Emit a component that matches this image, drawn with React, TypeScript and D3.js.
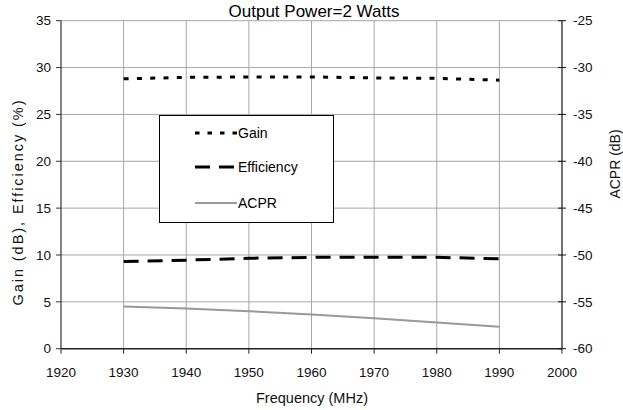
import React from "react";
import * as d3 from "d3";

const freqs = [1930, 1940, 1950, 1960, 1970, 1980, 1990];
const gain = [28.8, 28.95, 29.0, 29.0, 28.9, 28.85, 28.65];
const efficiency = [9.3, 9.45, 9.65, 9.75, 9.75, 9.75, 9.6];
const acpr = [-55.5, -55.7, -56.0, -56.35, -56.75, -57.2, -57.65];

const xTicks = [1920, 1930, 1940, 1950, 1960, 1970, 1980, 1990, 2000];
const yLeftTicks = [0, 5, 10, 15, 20, 25, 30, 35];
const yRightTicks = [-60, -55, -50, -45, -40, -35, -30, -25];

const W = 623;
const H = 410;
const L = 61, R = 562, T = 20.7, B = 348.7;
const FONT = "Arial, 'Liberation Sans', sans-serif";

export default function App() {
  const x = d3.scaleLinear().domain([1920, 2000]).range([L, R]);
  const yL = d3.scaleLinear().domain([0, 35]).range([B, T]);
  const yR = d3.scaleLinear().domain([-60, -25]).range([B, T]);

  const lineL = d3.line<number>().x((_, i) => x(freqs[i])).y((d) => yL(d));
  const lineR = d3.line<number>().x((_, i) => x(freqs[i])).y((d) => yR(d));

  return (
    <svg width={W} height={H} style={{ position: "absolute", left: 0, top: 0, background: "#fff" }} fontFamily={FONT}>
      <rect x={0} y={0} width={W} height={H} fill="#fff" />
      {/* gridlines */}
      {xTicks.slice(1, -1).map((t) => (
        <line key={"gx" + t} x1={x(t)} x2={x(t)} y1={T} y2={B} stroke="#a6a6a6" strokeWidth={1} />
      ))}
      {yLeftTicks.slice(1, -1).map((t) => (
        <line key={"gy" + t} x1={L} x2={R} y1={yL(t)} y2={yL(t)} stroke="#a6a6a6" strokeWidth={1} />
      ))}
      {/* top border */}
      <line x1={L} x2={R} y1={T} y2={T} stroke="#a6a6a6" strokeWidth={1} />
      {/* axes */}
      <line x1={L} x2={L} y1={T} y2={B} stroke="#333" strokeWidth={1.2} />
      <line x1={L} x2={R} y1={B} y2={B} stroke="#222" strokeWidth={1.5} />
      <line x1={R} x2={R} y1={T} y2={B} stroke="#111" strokeWidth={1.2} />
      {/* left ticks */}
      {yLeftTicks.map((t) => (
        <g key={"yl" + t}>
          <line x1={L - 5} x2={L} y1={yL(t)} y2={yL(t)} stroke="#333" />
          <text x={L - 10} y={yL(t)} dy="0.35em" textAnchor="end" fontSize={13.5} fill="#111">{t}</text>
        </g>
      ))}
      {/* right ticks */}
      {yRightTicks.map((t) => (
        <g key={"yr" + t}>
          <line x1={R - 4} x2={R + 4} y1={yR(t)} y2={yR(t)} stroke="#111" />
          <text x={R + 11} y={yR(t)} dy="0.35em" textAnchor="start" fontSize={13.5} fill="#111">{t}</text>
        </g>
      ))}
      {/* bottom ticks */}
      {xTicks.map((t) => (
        <g key={"xt" + t}>
          <line x1={x(t)} x2={x(t)} y1={B} y2={B + 5} stroke="#222" />
          <text x={x(t)} y={B + 28} textAnchor="middle" fontSize={13.5} fill="#111">{t}</text>
        </g>
      ))}
      {/* series */}
      <path d={lineR(acpr) || ""} fill="none" stroke="#999" strokeWidth={2} />
      <path d={lineL(efficiency) || ""} fill="none" stroke="#000" strokeWidth={3} strokeDasharray="15,9" />
      <path d={lineL(gain) || ""} fill="none" stroke="#000" strokeWidth={3} strokeDasharray="5,8.3" />
      {/* legend */}
      <rect x={159.5} y={115.5} width={174} height={107} fill="#fff" stroke="#000" strokeWidth={1} />
      <line x1={195} x2={237} y1={133} y2={133} stroke="#000" strokeWidth={3} strokeDasharray="4.5,8" />
      <text x={238} y={133} dy="0.35em" fontSize={14} fill="#000">Gain</text>
      <line x1={195} x2={237} y1={167} y2={167} stroke="#000" strokeWidth={3} strokeDasharray="15,9" />
      <text x={238} y={167} dy="0.35em" fontSize={14} fill="#000">Efficiency</text>
      <line x1={195} x2={237} y1={203} y2={203} stroke="#999" strokeWidth={2} />
      <text x={238} y={203} dy="0.35em" fontSize={14} fill="#000">ACPR</text>
      {/* title */}
      <text x={314} y={16.5} textAnchor="middle" fontSize={17} fill="#000">Output Power=2 Watts</text>
      {/* axis labels */}
      <text x={312} y={403} textAnchor="middle" fontSize={14.5} fill="#111">Frequency (MHz)</text>
      <text transform={`translate(23,${203}) rotate(-90)`} textAnchor="middle" fontSize={14.5} textLength={205} lengthAdjust="spacing" fill="#111">Gain (dB), Efficiency (%)</text>
      <text transform={`translate(620,${164}) rotate(-90)`} textAnchor="middle" fontSize={14} fill="#111">ACPR (dB)</text>
    </svg>
  );
}
